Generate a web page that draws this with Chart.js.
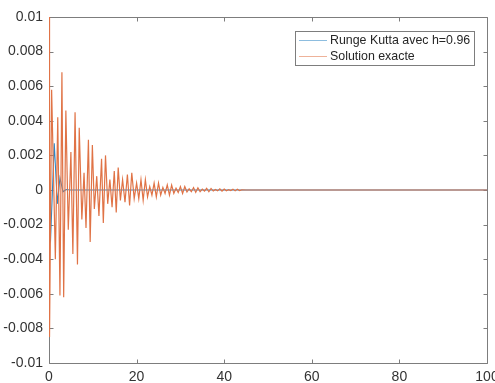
<!DOCTYPE html>
<html>
<head>
<meta charset="utf-8">
<script src="https://cdn.jsdelivr.net/npm/chart.js@4/dist/chart.umd.min.js"></script>
<style>
  html, body { margin: 0; padding: 0; background: #fff; }
  #wrap { position: relative; width: 495px; height: 383px; }
</style>
</head>
<body>
<div id="wrap"><canvas id="c"></canvas></div>
<script>
// Runge-Kutta approximation (h = 0.96)
const rkT = [0, 0.35, 1.2, 1.9, 2.5, 3.2, 3.9, 4.8, 20, 40, 60, 80, 100];
const rkY = [-0.0026, -0.0029, 0.0027, -0.0008, 0.0007, -0.0001, 0.00003, 0, 0, 0, 0, 0, 0];

// Exact solution samples
const exactT = [
  0, 0.12, 0.6, 1.45, 2.0, 2.5, 2.95, 3.35, 3.85, 4.4,
  5.0, 5.45, 5.95, 6.5, 6.9, 7.5, 8.0, 8.45, 9.0, 9.4,
  9.9, 10.35, 10.9, 11.4, 12.0, 12.4, 12.9, 13.4, 13.9, 14.4,
  14.9, 15.35, 15.8, 16.3, 16.8, 17.35, 17.9, 18.4, 18.9, 19.45,
  20.0, 20.5, 21.0, 21.5, 22.0, 22.5, 23.0, 23.5, 24.0, 24.5,
  25.0, 25.5, 26.0, 26.5, 27.0, 27.5, 28.0, 28.5, 29.0, 29.5,
  30.0, 30.5, 31.0, 31.5, 32.0, 32.5, 33.0, 33.5, 34.0, 34.5,
  35.0, 35.5, 36.0, 36.5, 37.0, 37.5, 38.0, 38.5, 39.0, 39.5,
  40.0, 40.5, 41.0, 41.5, 42.0, 42.5, 43.0, 43.5, 44.0, 45.0,
  60, 80, 100
];
const exactY = [
  0.0100, -0.0085, 0.0058, -0.0040, 0.0042, -0.0061, 0.0068, -0.0062, 0.0046, -0.0023,
  0.0022, -0.0037, 0.0045, -0.0043, 0.0036, -0.0017, 0.0010, -0.0022, 0.0029, -0.0030,
  0.0026, -0.0011, 0.0008, -0.0015, 0.0018, -0.0019, 0.0020, -0.0008, 0.0006, -0.0010,
  0.0011, -0.0013, 0.0013, -0.0006, 0.0006, -0.0007, 0.0009, -0.0009, 0.0010, -0.0005,
  0.0004, -0.0005, 0.0006, -0.0006, 0.0006, -0.0004, 0.0002, -0.0003, 0.0004, -0.0004,
  0.0004, -0.0003, 0.00015, -0.0002, 0.0003, -0.0003, 0.00028, -0.0002, 0.0001, -0.00015,
  0.0002, -0.0002, 0.0002, -0.00012, 0.00007, -0.0001, 0.00014, -0.00014, 0.00013, -0.0001,
  0.00005, -0.00007, 0.0001, -0.0001, 0.00009, -0.00006, 0.00003, -0.00005, 0.00007, -0.00007,
  0.00006, -0.00004, 0.00002, -0.00003, 0.00005, -0.00005, 0.00004, -0.00003, 0.00001, 0,
  0, 0, 0
];

const seriesNames = ['Runge Kutta avec h=0.96', 'Solution exacte'];
const seriesColors = ['#2f86c4', '#e07346'];

const xTicks = [0, 20, 40, 60, 80, 100];
const xTickLabels = ['0', '20', '40', '60', '80', '100'];
const yTicks = [-0.01, -0.008, -0.006, -0.004, -0.002, 0, 0.002, 0.004, 0.006, 0.008, 0.01];
const yTickLabels = ['-0.01', '-0.008', '-0.006', '-0.004', '-0.002', '0', '0.002', '0.004', '0.006', '0.008', '0.01'];

const toPoints = (ts, ys) => ts.map((t, i) => ({ x: t, y: ys[i] }));

const FONT = '"Liberation Sans", Arial, sans-serif';
Chart.defaults.font.family = FONT;

// Axes box with inward tick marks on all four sides, plus the legend box
const framePlugin = {
  id: 'frame',
  beforeDatasetsDraw(chart) {
    const { ctx, chartArea: a, scales: { x, y } } = chart;
    const L = 4;
    ctx.save();
    ctx.strokeStyle = '#7d7d7d';
    ctx.lineWidth = 1;
    ctx.beginPath();
    const l = Math.round(a.left) + 0.5, r = Math.round(a.right) + 0.5;
    const t = Math.round(a.top) + 0.5, b = Math.round(a.bottom) + 0.5;
    ctx.rect(l, t, r - l, b - t);
    xTicks.forEach(v => {
      const px = Math.round(x.getPixelForValue(v)) + 0.5;
      ctx.moveTo(px, b); ctx.lineTo(px, b - L);
      ctx.moveTo(px, t); ctx.lineTo(px, t + L);
    });
    yTicks.forEach(v => {
      const py = Math.round(y.getPixelForValue(v)) + 0.5;
      ctx.moveTo(l, py); ctx.lineTo(l + L, py);
      ctx.moveTo(r, py); ctx.lineTo(r - L, py);
    });
    ctx.stroke();
    ctx.restore();
  },
  afterDraw(chart) {
    const { ctx } = chart;
    const bx = 295.5, by = 31.5, bw = 179, bh = 34;
    ctx.save();
    ctx.fillStyle = '#ffffff';
    ctx.fillRect(bx, by, bw, bh);
    ctx.strokeStyle = '#7d7d7d';
    ctx.lineWidth = 1;
    ctx.strokeRect(bx, by, bw, bh);
    ctx.font = '12.4px ' + FONT;
    ctx.textBaseline = 'middle';
    ctx.textAlign = 'left';
    const rows = [40.5, 56.5];
    chart.data.datasets.forEach((ds, i) => {
      const yy = rows[i];
      ctx.strokeStyle = ds.borderColor;
      ctx.globalAlpha = 0.55;
      ctx.beginPath();
      ctx.moveTo(299, yy); ctx.lineTo(327, yy);
      ctx.stroke();
      ctx.globalAlpha = 1;
      ctx.fillStyle = '#262626';
      ctx.fillText(ds.label, 330, yy + 0.5);
    });
    ctx.restore();
  }
};

new Chart(document.getElementById('c'), {
  type: 'scatter',
  data: {
    datasets: [
      {
        label: seriesNames[0],
        data: toPoints(rkT, rkY),
        showLine: true,
        borderColor: seriesColors[0],
        borderWidth: 1.1,
        pointRadius: 0,
        tension: 0,
        order: 0
      },
      {
        label: seriesNames[1],
        data: toPoints(exactT, exactY),
        showLine: true,
        borderColor: seriesColors[1],
        borderWidth: 1.2,
        pointRadius: 0,
        tension: 0,
        order: -1
      }
    ]
  },
  options: {
    responsive: true,
    maintainAspectRatio: false,
    animation: false,
    events: [],
    layout: { padding: { top: 17, right: 8, bottom: 0, left: 0 } },
    plugins: {
      legend: { display: false },
      tooltip: { enabled: false }
    },
    scales: {
      x: {
        type: 'linear',
        min: 0, max: 100,
        grid: { display: false, drawTicks: false },
        border: { display: false },
        afterBuildTicks: s => { s.ticks = xTicks.map(v => ({ value: v })); },
        ticks: {
          autoSkip: false,
          maxRotation: 0,
          padding: 6,
          color: '#333333',
          font: { size: 14 },
          callback: (v, i) => xTickLabels[i]
        },
        afterFit: s => { s.height = 20; s.paddingLeft = 0; s.paddingRight = 0; }
      },
      y: {
        type: 'linear',
        min: -0.01, max: 0.01,
        grid: { display: false, drawTicks: false },
        border: { display: false },
        afterBuildTicks: s => { s.ticks = yTicks.map(v => ({ value: v })); },
        ticks: {
          autoSkip: false,
          padding: 6,
          color: '#333333',
          font: { size: 14 },
          callback: (v, i) => yTickLabels[i]
        },
        afterFit: s => { s.width = 49; s.paddingTop = 0; s.paddingBottom = 0; }
      }
    }
  },
  plugins: [framePlugin]
});
</script>
</body>
</html>
